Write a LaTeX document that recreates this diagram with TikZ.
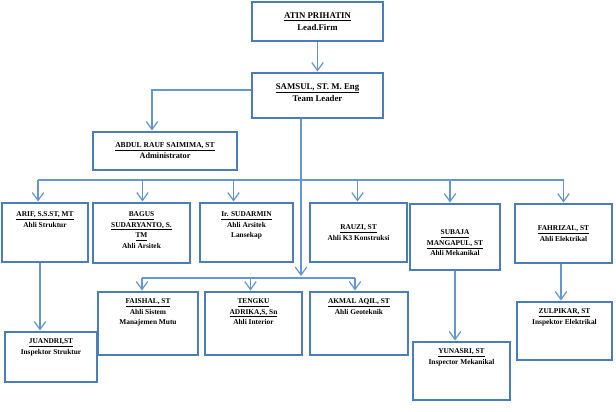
\documentclass[tikz,border=0pt]{standalone}
\usepackage{fontspec}
\setmainfont{Liberation Serif}
\usepackage{xcolor}
\usetikzlibrary{positioning,arrows.meta}
\definecolor{boxblue}{RGB}{74,126,187}
\definecolor{lineblue}{RGB}{100,150,210}
\newcommand{\nm}[1]{\underline{\raisebox{0pt}[\height][0pt]{#1}}}
\tikzstyle{box} = [draw=boxblue, line width=1.7pt, fill=white, inner sep=0pt]
\tikzstyle{txt} = [align=center, inner sep=0pt, font=\fontsize{4.2}{6}\selectfont\bfseries]
\tikzstyle{line} = [draw=lineblue, line width=0.7pt, -{Straight Barb[length=4.5pt,width=6.5pt]}]
\tikzstyle{bus} = [draw=lineblue, line width=0.7pt]

\begin{document}
\begin{tikzpicture}[x=0.02cm,y=-0.02cm]
\useasboundingbox (0,0) rectangle (616,412);
%
\node[box, minimum width=131*0.02cm, minimum height=39*0.02cm] (atin) at (317.5,21.5) {};
\node[box, minimum width=131*0.02cm, minimum height=45*0.02cm] (samsul) at (317.5,95.5) {};
\node[box, minimum width=144*0.02cm, minimum height=38*0.02cm] (abdul) at (165,151) {};
%
\node[box, minimum width=86*0.02cm, minimum height=59*0.02cm] (arif) at (45,232.5) {};
\node[box, minimum width=97*0.02cm, minimum height=60*0.02cm] (bagus) at (141.5,233) {};
\node[box, minimum width=93*0.02cm, minimum height=59*0.02cm] (sudarmin) at (246.5,232.5) {};
\node[box, minimum width=97*0.02cm, minimum height=59*0.02cm] (rauzi) at (358.5,232.5) {};
\node[box, minimum width=90*0.02cm, minimum height=66*0.02cm] (subaja) at (455,237) {};
\node[box, minimum width=97*0.02cm, minimum height=59*0.02cm] (fahrizal) at (563.5,233.5) {};
%
\node[box, minimum width=100*0.02cm, minimum height=63*0.02cm] (faishal) at (148,323.5) {};
\node[box, minimum width=97*0.02cm, minimum height=63*0.02cm] (tengku) at (253.5,323.5) {};
\node[box, minimum width=98*0.02cm, minimum height=63*0.02cm] (akmal) at (359,323.5) {};
\node[box, minimum width=92*0.02cm, minimum height=50*0.02cm] (juandri) at (51,357) {};
\node[box, minimum width=97*0.02cm, minimum height=58*0.02cm] (yunasri) at (461.5,371) {};
\node[box, minimum width=95*0.02cm, minimum height=58*0.02cm] (zulpikar) at (564.5,331) {};
%
\node[txt, font=\fontsize{5}{6.8}\selectfont\bfseries] (atin-t) at (atin.center) {\nm{ATIN PRIHATIN}\\Lead.Firm};
\node[txt, font=\fontsize{5}{6.8}\selectfont\bfseries, yshift=0.05cm] (samsul-t) at (samsul.center) {\nm{SAMSUL, ST. M. Eng}\\Team Leader};
\node[txt, font=\fontsize{4.3}{6.3}\selectfont\bfseries] (abdul-t) at (abdul.center) {\nm{ABDUL RAUF SAIMIMA, ST}\\{\fontsize{4.7}{6.3}\selectfont Administrator}};
%
\node[txt, below=0.2cm of arif.north] (arif-t) {\nm{ARIF, S.S.ST, MT}\\Ahli Struktur};
\node[txt, below=0.2cm of bagus.north] (bagus-t) {\nm{BAGUS}\\\nm{SUDARYANTO, S.}\\\nm{TM}\\Ahli Arsitek};
\node[txt, below=0.2cm of sudarmin.north] (sudarmin-t) {\nm{Ir. SUDARMIN}\\Ahli Arsitek\\Lansekap};
\node[txt] (rauzi-t) at (rauzi.center) {\nm{RAUZI, ST}\\Ahli K3 Konstruksi};
\node[txt, yshift=-0.12cm] (subaja-t) at (subaja.center) {\nm{SUBAJA}\\\nm{MANGAPUL, ST}\\Ahli Mekanikal};
\node[txt] (fahrizal-t) at (fahrizal.center) {\nm{FAHRIZAL, ST}\\Ahli Elektrikal};
%
\node[txt, below=0.16cm of faishal.north] (faishal-t) {\nm{FAISHAL, ST}\\Ahli Sistem\\Manajemen Mutu};
\node[txt, below=0.16cm of tengku.north] (tengku-t) {\nm{TENGKU}\\\nm{ADRIKA,S, Sn}\\Ahli Interior};
\node[txt, below=0.16cm of akmal.north] (akmal-t) {\nm{AKMAL AQIL, ST}\\Ahli Geoteknik};
\node[txt, below=0.16cm of juandri.north] (juandri-t) {\nm{JUANDRI,ST}\\Inspektor Struktur};
\node[txt, below=0.16cm of yunasri.north] (yunasri-t) {\nm{YUNASRI, ST}\\Inspector Mekanikal};
\node[txt, below=0.16cm of zulpikar.north] (zulpikar-t) {\nm{ZULPIKAR, ST}\\Inspektor Elektrikal};
%
\coordinate (trunk) at (301,180);
\coordinate (split) at (301,276);
%
\draw[line] (atin.south) -- (samsul.north);
\draw[line] ([yshift=0.11cm]samsul.west) -| ([xshift=-0.26cm]abdul.north);
\draw[line] (samsul.south -| trunk) -- (split);
\draw[bus] ([xshift=-0.14cm]arif.north |- trunk) -- (fahrizal.north |- trunk);
\foreach \b/\dx in {arif/-7,bagus/1,sudarmin/-13,rauzi/-1,subaja/-5,fahrizal/0}
  \draw[line] ([xshift=\dx*0.02cm]\b.north |- trunk) -- ([xshift=\dx*0.02cm]\b.north);
\draw[bus] ([xshift=-0.12cm,yshift=-0.04cm]faishal.north |- split) -- ([xshift=-0.08cm,yshift=-0.04cm]akmal.north |- split);
\foreach \b/\dx in {faishal/-6,tengku/-3,akmal/-4}
  \draw[line] ([xshift=\dx*0.02cm,yshift=-0.04cm]\b.north |- split) -- ([xshift=\dx*0.02cm]\b.north);
%
\draw[line] ([xshift=-0.1cm]arif.south) -- ([xshift=-0.1cm]arif.south |- juandri.north);
\draw[line] (subaja.south) -- (subaja.south |- yunasri.north);
\draw[line] ([xshift=-0.05cm]fahrizal.south) -- ([xshift=-0.05cm]fahrizal.south |- zulpikar.north);
\end{tikzpicture}
\end{document}
